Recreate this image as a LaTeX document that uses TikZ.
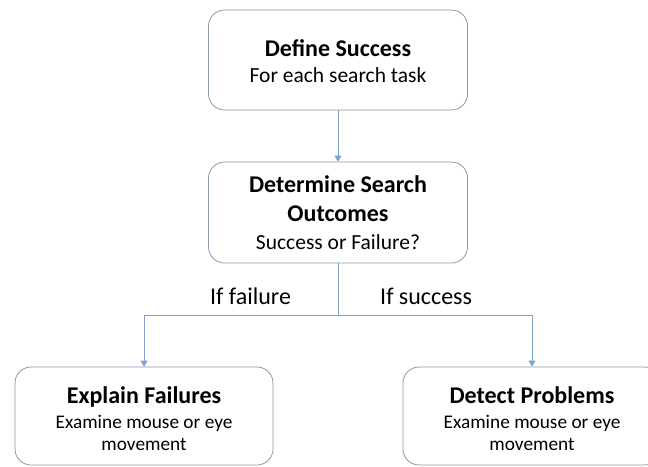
\documentclass[tikz,border=0pt]{standalone}
\usepackage{fontspec}
\setmainfont{Carlito}
\usetikzlibrary{arrows.meta}
\definecolor{boxline}{HTML}{8A9AA8}
\definecolor{conn}{HTML}{7FA3CC}
\begin{document}
\begin{tikzpicture}[x=1pt,y=-1pt,
  box/.style={draw=boxline, line width=0.8pt, rounded corners=16pt, fill=white, inner sep=0pt},
  ttl/.style={anchor=base, inner sep=0pt, font=\fontsize{24}{28}\selectfont\bfseries},
  sub/.style={anchor=base, inner sep=0pt, font=\fontsize{21.5}{25}\selectfont},
  subsm/.style={anchor=base, inner sep=0pt, font=\fontsize{19.3}{22}\selectfont},
  lbl/.style={anchor=base west, inner sep=0pt, font=\fontsize{24}{28}\selectfont},
  line/.style={draw=conn, line width=0.8pt},
  arrow/.style={line, -{Triangle[length=6pt,width=7pt]}}]
\useasboundingbox (0,0) rectangle (648,466);
\fill[white] (0,0) rectangle (648,466);
\clip (0,0) rectangle (648,466);
% boxes
\node[box, minimum width=259pt, minimum height=100pt] (b1) at (338,60) {};
\node[box, minimum width=259pt, minimum height=101pt] (b2) at (338,212.5) {};
\node[box, minimum width=258pt, minimum height=98pt] (b3) at (144,416) {};
\node[box, minimum width=258pt, minimum height=98pt] (b4) at (532,416) {};
% texts
\node[ttl] (t1) at (338,56) {Define Success};
\node[sub] (s1) at (338,82) {For each search task};
\node[ttl] (t2a) at (338,192) {Determine Search};
\node[ttl] (t2b) at (338,221) {Outcomes};
\node[sub] (s2) at (338,249) {Success or Failure?};
\node[ttl] (t3) at (144,403) {Explain Failures};
\node[subsm] (s3a) at (144,428) {Examine mouse or eye};
\node[subsm] (s3b) at (144,450) {movement};
\node[ttl] (t4) at (532,403) {Detect Problems};
\node[subsm] (s4a) at (532,428) {Examine mouse or eye};
\node[subsm] (s4b) at (532,450) {movement};
% labels
\node[lbl] (l1) at (210,304) {If failure};
\node[lbl] (l2) at (380,304) {If success};
% connectors
\coordinate (split) at (338,315);
\draw[arrow] (b1.south) -- (b2.north);
\draw[line] (b2.south) -- (split);
\draw[arrow] (split) -| (b3.north);
\draw[arrow] (split) -| (b4.north);
\end{tikzpicture}
\end{document}
